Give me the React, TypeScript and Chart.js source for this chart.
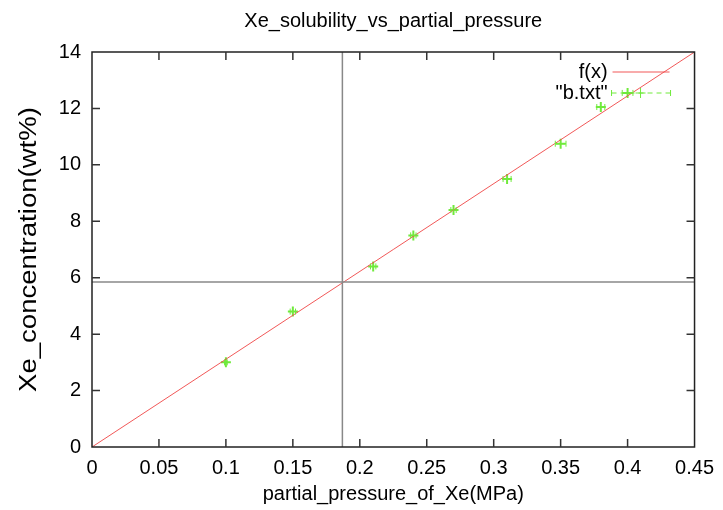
import React, { useEffect, useRef } from "react";
import { Chart, registerables } from "chart.js";

Chart.register(...registerables);

const titleText = "Xe_solubility_vs_partial_pressure";
const xTitle = "partial_pressure_of_Xe(MPa)";
const yTitle = "Xe_concentration(wt%)";

const pressure = [0.1, 0.15, 0.21, 0.24, 0.27, 0.31, 0.35, 0.38, 0.4];
const concentration = [3.0, 4.8, 6.4, 7.5, 8.4, 9.5, 10.75, 12.05, 12.55];
const pressureErr = [0.001, 0.002, 0.002, 0.002, 0.002, 0.003, 0.004, 0.003, 0.004];

const fitX = [0, 0.45];
const fitY = [0, 14];

const crossX = 0.187;
const crossY = 5.85;

const xMin = 0;
const xMax = 0.45;
const xStep = 0.05;
const yMin = 0;
const yMax = 14;
const yStep = 2;

const legendLabels = ["f(x)", '"b.txt"'];

const RED = "rgba(240,70,70,0.9)";
const GREEN = "#70ea3c";
const FONT = "'Liberation Sans', Arial, Helvetica, sans-serif";

export default function App() {
  const ref = useRef<HTMLCanvasElement | null>(null);

  useEffect(() => {
    if (!ref.current) return;

    const decor = {
      id: "decor",
      afterDatasetsDraw(chart: any) {
        const { ctx, chartArea: a, scales } = chart;
        const xs = scales.x;
        const ys = scales.y;
        ctx.save();
        ctx.strokeStyle = GREEN;
        ctx.lineWidth = 1;
        for (let i = 0; i < pressure.length; i++) {
          const y = ys.getPixelForValue(concentration[i]);
          const x1 = xs.getPixelForValue(pressure[i] - pressureErr[i]);
          const x2 = xs.getPixelForValue(pressure[i] + pressureErr[i]);
          ctx.beginPath();
          ctx.moveTo(x1, y);
          ctx.lineTo(x2, y);
          ctx.moveTo(x1, y - 3);
          ctx.lineTo(x1, y + 3);
          ctx.moveTo(x2, y - 3);
          ctx.lineTo(x2, y + 3);
          ctx.stroke();
        }
        ctx.strokeStyle = "#222";
        ctx.lineWidth = 1.5;
        ctx.strokeRect(a.left, a.top, a.right - a.left, a.bottom - a.top);
        ctx.lineWidth = 1.5;
        ctx.strokeStyle = "#333";
        const tl = 8;
        for (let v = xMin + xStep; v < xMax - 1e-9; v += xStep) {
          const px = xs.getPixelForValue(v);
          ctx.beginPath();
          ctx.moveTo(px, a.bottom);
          ctx.lineTo(px, a.bottom - tl);
          ctx.moveTo(px, a.top);
          ctx.lineTo(px, a.top + tl);
          ctx.stroke();
        }
        for (let v = yMin + yStep; v < yMax - 1e-9; v += yStep) {
          const py = ys.getPixelForValue(v);
          ctx.beginPath();
          ctx.moveTo(a.left, py);
          ctx.lineTo(a.left + tl, py);
          ctx.moveTo(a.right, py);
          ctx.lineTo(a.right - tl, py);
          ctx.stroke();
        }
        ctx.fillStyle = "#000";
        ctx.font = `20px ${FONT}`;
        ctx.textAlign = "right";
        ctx.textBaseline = "middle";
        const lx = a.right - 87;
        const ly1 = a.top + 20;
        const ly2 = a.top + 41;
        ctx.fillText(legendLabels[0], lx, ly1);
        ctx.fillText(legendLabels[1], lx, ly2);
        ctx.strokeStyle = RED;
        ctx.lineWidth = 1;
        ctx.beginPath();
        ctx.moveTo(lx + 5, ly1);
        ctx.lineTo(lx + 62, ly1);
        ctx.stroke();
        ctx.strokeStyle = GREEN;
        ctx.setLineDash([5, 4]);
        ctx.beginPath();
        ctx.moveTo(lx + 4, ly2);
        ctx.lineTo(lx + 63, ly2);
        ctx.stroke();
        ctx.setLineDash([]);
        ctx.beginPath();
        ctx.moveTo(lx + 4, ly2 - 3);
        ctx.lineTo(lx + 4, ly2 + 3);
        ctx.moveTo(lx + 63, ly2 - 3);
        ctx.lineTo(lx + 63, ly2 + 3);
        const cx = lx + 33;
        ctx.moveTo(cx - 5, ly2);
        ctx.lineTo(cx + 5, ly2);
        ctx.moveTo(cx, ly2 - 5);
        ctx.lineTo(cx, ly2 + 5);
        ctx.stroke();
        ctx.fillStyle = "#000";
        ctx.textAlign = "center";
        ctx.font = `20px ${FONT}`;
        ctx.fillText(titleText, (a.left + a.right) / 2, 21);
        ctx.fillText(xTitle, (a.left + a.right) / 2, 494);
        ctx.save();
        ctx.translate(30, (a.top + a.bottom) / 2);
        ctx.rotate(-Math.PI / 2);
        ctx.font = `23px ${FONT}`;
        const w = ctx.measureText(yTitle).width;
        ctx.scale(285 / w, 1);
        ctx.fillText(yTitle, 0, 0);
        ctx.restore();
        ctx.restore();
      },
    };

    const chart = new Chart(ref.current, {
      type: "scatter",
      data: {
        datasets: [
          {
            label: "crossV",
            data: [
              { x: crossX, y: yMin },
              { x: crossX, y: yMax },
            ],
            showLine: true,
            borderColor: "#888",
            borderWidth: 1.5,
            pointRadius: 0,
          },
          {
            label: "crossH",
            data: [
              { x: xMin, y: crossY },
              { x: xMax, y: crossY },
            ],
            showLine: true,
            borderColor: "#888",
            borderWidth: 1.5,
            pointRadius: 0,
          },
          {
            label: "f(x)",
            data: fitX.map((x, i) => ({ x, y: fitY[i] })),
            showLine: true,
            borderColor: RED,
            borderWidth: 1,
            pointRadius: 0,
          },
          {
            label: "b.txt",
            data: pressure.map((x, i) => ({ x, y: concentration[i] })),
            showLine: false,
            pointStyle: "cross",
            pointRadius: 5,
            borderColor: GREEN,
            borderWidth: 2,
          },
        ],
      },
      options: {
        animation: false,
        responsive: false,
        maintainAspectRatio: false,
        layout: { padding: { left: 0, right: 26, top: 52, bottom: 0 } },
        plugins: {
          legend: { display: false },
          title: { display: false },
          tooltip: { enabled: false },
        },
        scales: {
          x: {
            type: "linear",
            min: xMin,
            max: xMax,
            afterFit: (s: any) => {
              s.height = 63;
            },
            afterBuildTicks: (s: any) => {
              const t = [];
              for (let i = 0; i <= Math.round((xMax - xMin) / xStep); i++) t.push({ value: xMin + i * xStep });
              s.ticks = t;
            },
            grid: { display: false, drawTicks: false },
            border: { display: false },
            ticks: {
              padding: 9,
              color: "#000",
              font: { family: FONT, size: 20 },
              maxRotation: 0,
              autoSkip: false,
              callback: (v: any) => String(Number(Number(v).toFixed(2))),
            },
          },
          y: {
            type: "linear",
            min: yMin,
            max: yMax,
            afterFit: (s: any) => {
              s.width = 92;
            },
            grid: { display: false, drawTicks: false },
            border: { display: false },
            ticks: {
              stepSize: yStep,
              padding: 11,
              color: "#000",
              font: { family: FONT, size: 20 },
            },
          },
        },
      },
      plugins: [decor],
    });
    return () => chart.destroy();
  }, []);

  return (
    <div style={{ position: "fixed", left: 0, top: 0, width: 723, height: 510, background: "#fff" }}>
      <canvas ref={ref} width={723} height={510} style={{ width: 723, height: 510 }} />
    </div>
  );
}
